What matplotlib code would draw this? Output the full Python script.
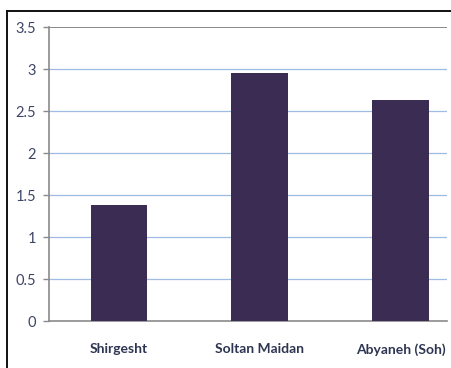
import matplotlib
matplotlib.use('Agg')
import matplotlib.pyplot as plt
from matplotlib.lines import Line2D

sites = ['Shirgesht', 'Soltan Maidan', 'Abyaneh (Soh)']
values = [1.38, 2.95, 2.63]
yticks = [0, 0.5, 1, 1.5, 2, 2.5, 3, 3.5]

plt.rcParams['font.family'] = ['Lato', 'DejaVu Sans']

fig = plt.figure(figsize=(4.51, 3.68), dpi=100)
fig.patch.set_facecolor('white')
ax = fig.add_axes([0.1086, 0.1277, 0.8824, 0.7989])

x = range(len(sites))
ax.bar(x, values, width=0.40, color='#3a2c52', zorder=3)

ax.set_ylim(0, 3.5)
ax.set_xlim(-0.496, 2.33)
ax.set_yticks(yticks)
ax.set_yticklabels(['0', '0.5', '1', '1.5', '2', '2.5', '3', '3.5'])
for v in yticks[1:-1]:
    ax.axhline(v, color='#9dbbe3', lw=0.9, zorder=1)
ax.axhline(3.5, color='#8a8a8a', lw=1.4, zorder=2)

for s in ['top', 'right']:
    ax.spines[s].set_visible(False)
ax.spines['left'].set_color('#8a8a8a')
ax.spines['left'].set_linewidth(1.2)
ax.spines['bottom'].set_color('#8a8a8a')
ax.spines['bottom'].set_linewidth(1.2)

ax.tick_params(axis='y', length=4.3, width=1, color='#8a8a8a', pad=5,
               labelsize=10.5, labelcolor='#3d4566')
ax.tick_params(axis='x', length=0, pad=16)
ax.set_xticks(list(x))
ax.set_xticklabels(sites, fontsize=10, fontweight='bold', color='#2e3552')

# outer frame (left and top edges visible)
fig.add_artist(Line2D([7.5 / 451, 7.5 / 451], [0, 1 - 10.5 / 368],
                      transform=fig.transFigure, color='#111111', lw=1.4))
fig.add_artist(Line2D([7.5 / 451, 1], [1 - 10.5 / 368, 1 - 10.5 / 368],
                      transform=fig.transFigure, color='#111111', lw=1.4))

fig.savefig('out.png', dpi=100)
